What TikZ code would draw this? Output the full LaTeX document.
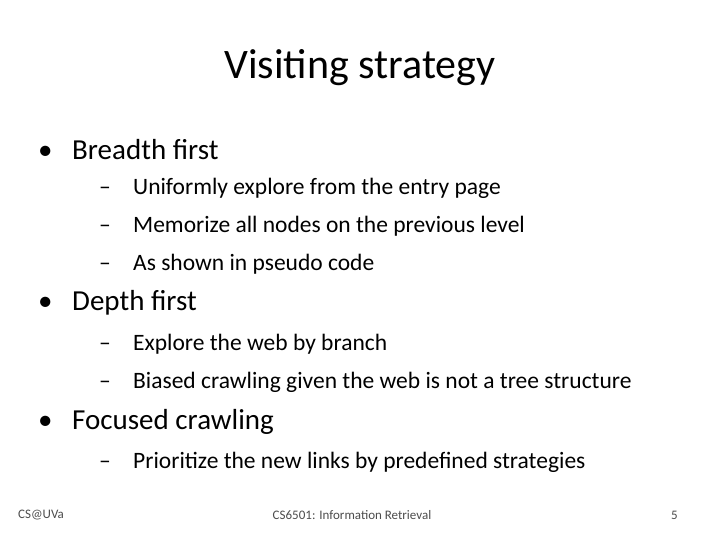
\documentclass[tikz,border=0pt]{standalone}
\usepackage{fontspec}
\setmainfont{Carlito}
\begin{document}
\begin{tikzpicture}[
    x=1pt, y=-1pt,
    title/.style  = {font=\fontsize{42}{46}\selectfont},
    lvlone/.style = {anchor=west, inner sep=0pt, font=\fontsize{29}{33}\selectfont},
    lvltwo/.style = {anchor=west, inner sep=0pt, font=\fontsize{23.5}{27}\selectfont},
    foot/.style   = {inner sep=0pt, font=\fontsize{13}{15}\selectfont, text=black!70},
  ]
\useasboundingbox[fill=white] (0,0) rectangle (720,540);

% title
\node[title] (title) at (360,68) {Visiting strategy};

% breadth first
\node[lvlone] (b1) at (38,150) {\makebox[34pt][l]{•}Breadth first};
\node[lvltwo] (b1a) at (99,188) {\makebox[34pt][l]{–}Uniformly explore from the entry page};
\node[lvltwo] (b1b) at (99,226) {\makebox[34pt][l]{–}Memorize all nodes on the previous level};
\node[lvltwo] (b1c) at (99,264) {\makebox[34pt][l]{–}As shown in pseudo code};

% depth first
\node[lvlone] (b2) at (38,303) {\makebox[34pt][l]{•}Depth first};
\node[lvltwo] (b2a) at (99,344) {\makebox[34pt][l]{–}Explore the web by branch};
\node[lvltwo] (b2b) at (99,382) {\makebox[34pt][l]{–}Biased crawling given the web is not a tree structure};

% focused crawling
\node[lvlone] (b3) at (38,422) {\makebox[34pt][l]{•}Focused crawling};
\node[lvltwo] (b3a) at (99,462) {\makebox[34pt][l]{–}Prioritize the new links by predefined strategies};

% footer
\node[foot, anchor=west] (fl) at (18,515) {CS@UVa};
\node[foot] (fc) at (352,515) {CS6501: Information Retrieval};
\node[foot, anchor=east] (fr) at (678,515) {5};
\end{tikzpicture}
\end{document}
